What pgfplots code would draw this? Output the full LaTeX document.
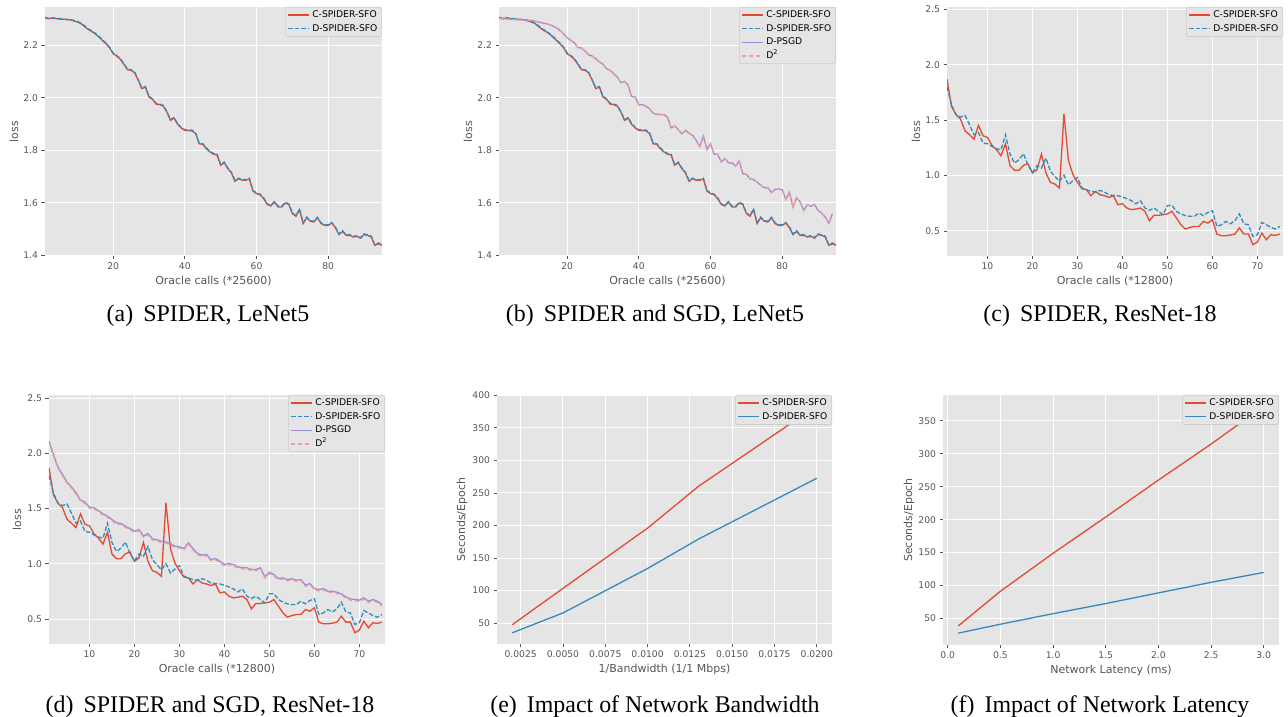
\documentclass[border=0pt]{standalone}
\usepackage{fontspec}
\setmainfont{DejaVu Sans}
\newfontfamily\capfont{Liberation Serif}
\usepackage{pgfplots}
\pgfplotsset{compat=1.18}
\usepackage{pgfplotstable}

\definecolor{bg}{HTML}{E5E5E5}
\definecolor{cred}{HTML}{E24A33}
\definecolor{cblue}{HTML}{348ABD}
\definecolor{cpurple}{HTML}{988ED5}
\definecolor{cpink}{HTML}{F39A9A}
\definecolor{tgray}{HTML}{555555}
\definecolor{legedge}{HTML}{CCCCCC}

% LeNet5: C-SPIDER-SFO (c), D-SPIDER-SFO (d)
\pgfplotstableread{
x c d
1 2.305 2.306
2 2.301 2.303
3 2.304 2.305
4 2.302 2.303
5 2.300 2.302
6 2.299 2.300
7 2.298 2.299
8 2.297 2.298
9 2.293 2.295
10 2.289 2.291
11 2.283 2.285
12 2.272 2.275
13 2.261 2.263
14 2.253 2.256
15 2.244 2.246
16 2.232 2.235
17 2.219 2.221
18 2.206 2.209
19 2.191 2.193
20 2.168 2.171
21 2.159 2.161
22 2.147 2.150
23 2.128 2.130
24 2.107 2.110
25 2.105 2.107
26 2.095 2.098
27 2.067 2.069
28 2.035 2.038
29 2.041 2.043
30 2.003 2.006
31 1.994 1.996
32 1.976 1.979
33 1.974 1.976
34 1.968 1.971
35 1.946 1.948
36 1.914 1.917
37 1.923 1.925
38 1.899 1.902
39 1.885 1.887
40 1.876 1.879
41 1.875 1.877
42 1.874 1.877
43 1.864 1.866
44 1.825 1.828
45 1.823 1.825
46 1.806 1.809
47 1.794 1.796
48 1.785 1.788
49 1.783 1.785
50 1.743 1.746
51 1.753 1.755
52 1.730 1.733
53 1.714 1.716
54 1.682 1.685
55 1.692 1.694
56 1.686 1.689
57 1.686 1.688
58 1.691 1.694
59 1.645 1.647
60 1.635 1.638
61 1.631 1.633
62 1.616 1.619
63 1.594 1.596
64 1.588 1.591
65 1.603 1.605
66 1.584 1.587
67 1.584 1.586
68 1.599 1.602
69 1.594 1.596
70 1.559 1.562
71 1.549 1.551
72 1.574 1.577
73 1.521 1.523
74 1.543 1.546
75 1.530 1.532
76 1.527 1.530
77 1.543 1.545
78 1.521 1.524
79 1.514 1.516
80 1.514 1.517
81 1.523 1.525
82 1.505 1.508
83 1.479 1.481
84 1.491 1.494
85 1.476 1.478
86 1.476 1.479
87 1.470 1.472
88 1.472 1.475
89 1.465 1.467
90 1.479 1.482
91 1.476 1.478
92 1.470 1.473
93 1.438 1.440
94 1.444 1.447
95 1.438 1.443
}\lenetspider

% LeNet5: D-PSGD (p), D^2 (q)
\pgfplotstableread{
x p q
1 2.302 2.301
2 2.302 2.301
3 2.301 2.300
4 2.300 2.299
5 2.299 2.298
6 2.298 2.297
7 2.297 2.296
8 2.296 2.295
9 2.296 2.295
10 2.295 2.294
11 2.292 2.291
12 2.289 2.288
13 2.286 2.285
14 2.283 2.282
15 2.279 2.278
16 2.274 2.273
17 2.267 2.266
18 2.257 2.256
19 2.244 2.243
20 2.229 2.228
21 2.219 2.218
22 2.210 2.209
23 2.191 2.190
24 2.190 2.189
25 2.178 2.177
26 2.164 2.163
27 2.159 2.158
28 2.149 2.148
29 2.137 2.136
30 2.128 2.127
31 2.111 2.110
32 2.105 2.104
33 2.092 2.091
34 2.079 2.078
35 2.058 2.057
36 2.063 2.062
37 2.048 2.047
38 2.005 2.004
39 2.003 2.002
40 1.974 1.973
41 1.974 1.973
42 1.968 1.967
43 1.959 1.958
44 1.942 1.941
45 1.937 1.936
46 1.937 1.936
47 1.936 1.935
48 1.927 1.926
49 1.886 1.885
50 1.893 1.892
51 1.879 1.878
52 1.863 1.862
53 1.876 1.875
54 1.866 1.865
55 1.857 1.856
56 1.838 1.837
57 1.815 1.814
58 1.854 1.853
59 1.803 1.802
60 1.825 1.824
61 1.785 1.784
62 1.785 1.784
63 1.756 1.755
64 1.769 1.768
65 1.753 1.752
66 1.752 1.751
67 1.740 1.739
68 1.759 1.758
69 1.711 1.710
70 1.709 1.708
71 1.692 1.691
72 1.688 1.687
73 1.679 1.678
74 1.667 1.666
75 1.658 1.657
76 1.658 1.657
77 1.639 1.638
78 1.651 1.650
79 1.653 1.652
80 1.650 1.649
81 1.613 1.612
82 1.641 1.640
83 1.584 1.583
84 1.620 1.619
85 1.603 1.602
86 1.571 1.570
87 1.593 1.592
88 1.587 1.586
89 1.594 1.593
90 1.571 1.570
91 1.561 1.560
92 1.546 1.545
93 1.523 1.522
94 1.559 1.558
}\lenetsgd

% ResNet-18: C-SPIDER-SFO (c), D-SPIDER-SFO (d), D-PSGD (p), D^2 (q)
\pgfplotstableread{
x c d p q
1 1.870 1.800 2.112 2.100
2 1.624 1.639 1.991 1.980
3 1.549 1.549 1.876 1.866
4 1.510 1.528 1.810 1.800
5 1.405 1.543 1.740 1.730
6 1.368 1.459 1.698 1.688
7 1.329 1.368 1.643 1.632
8 1.453 1.389 1.577 1.566
9 1.359 1.293 1.559 1.549
10 1.344 1.287 1.514 1.503
11 1.272 1.263 1.508 1.497
12 1.233 1.242 1.483 1.473
13 1.179 1.233 1.453 1.442
14 1.287 1.368 1.432 1.421
15 1.089 1.194 1.402 1.392
16 1.047 1.113 1.372 1.361
17 1.047 1.143 1.366 1.356
18 1.092 1.197 1.341 1.330
19 1.107 1.092 1.320 1.310
20 1.023 1.029 1.296 1.285
21 1.053 1.089 1.311 1.300
22 1.194 1.068 1.251 1.241
23 1.023 1.158 1.275 1.264
24 0.938 1.038 1.227 1.216
25 0.923 0.992 1.218 1.208
26 0.887 0.947 1.205 1.194
27 1.555 1.002 1.199 1.188
28 1.137 0.917 1.184 1.174
29 1.008 0.953 1.160 1.149
30 0.938 0.983 1.154 1.143
31 0.881 0.887 1.139 1.129
32 0.872 0.872 1.190 1.180
33 0.818 0.857 1.139 1.128
34 0.857 0.851 1.094 1.083
35 0.827 0.866 1.079 1.068
36 0.818 0.851 1.085 1.074
37 0.803 0.827 1.039 1.028
38 0.818 0.821 1.048 1.037
39 0.737 0.818 1.024 1.013
40 0.746 0.806 0.994 0.983
41 0.707 0.791 1.003 0.992
42 0.692 0.773 0.994 0.983
43 0.698 0.746 0.973 0.962
44 0.707 0.773 0.964 0.953
45 0.677 0.707 0.964 0.953
46 0.592 0.686 0.949 0.938
47 0.641 0.707 0.949 0.938
48 0.641 0.677 0.964 0.953
49 0.647 0.647 0.882 0.871
50 0.653 0.728 0.924 0.913
51 0.677 0.731 0.903 0.892
52 0.617 0.677 0.867 0.856
53 0.556 0.653 0.873 0.862
54 0.517 0.638 0.858 0.847
55 0.532 0.632 0.864 0.853
56 0.541 0.632 0.852 0.841
57 0.541 0.662 0.858 0.847
58 0.586 0.638 0.807 0.796
59 0.571 0.668 0.822 0.811
60 0.601 0.683 0.776 0.765
61 0.472 0.541 0.767 0.756
62 0.457 0.556 0.776 0.765
63 0.457 0.586 0.752 0.741
64 0.463 0.565 0.752 0.741
65 0.472 0.592 0.743 0.732
66 0.526 0.653 0.728 0.717
67 0.472 0.565 0.701 0.690
68 0.472 0.556 0.683 0.672
69 0.376 0.451 0.677 0.666
70 0.400 0.466 0.671 0.660
71 0.481 0.577 0.692 0.681
72 0.421 0.556 0.662 0.651
73 0.466 0.532 0.677 0.666
74 0.460 0.517 0.662 0.651
75 0.472 0.541 0.632 0.621
}\resnet

\pgfplotstableread{
x c d
0.002 47.5 35.2
0.005 103.5 65.7
0.010 196.0 134.0
0.013 260.0 179.0
0.020 384.0 272.6
}\bandwidth

\pgfplotstableread{
x c d
0.1 38.9 28.0
0.5 91.5 41.5
1.0 149.0 57.5
1.5 204.0 72.8
2.0 260.0 89.0
2.5 314.6 105.0
3.0 372.0 120.0
}\latency

\pgfplotsset{
  legend image code/.code={\draw[#1] (0pt,0pt) -- (21pt,0pt);},
  gg/.style={
    scale only axis,
    anchor=south west,
    height=249pt,
    axis background/.style={fill=bg},
    grid=major,
    major grid style={white, line width=1pt},
    axis line style={draw=none},
    tick align=outside,
    xtick pos=bottom, ytick pos=left,
    major tick length=3.5pt,
    tick style={tgray, line width=0.8pt},
    tick label style={font=\fontsize{9.2}{11}\selectfont, text=tgray},
    label style={font=\fontsize{11}{13}\selectfont, text=tgray},
    /pgf/number format/assume math mode=true,
    scaled ticks=false,
    no markers,
    xlabel style={at={([yshift=-25pt]axis description cs:0.5,0)}, anchor=center},
    legend cell align=left,
    legend style={at={(1,1)}, anchor=north east, draw=legedge, fill=bg,
      rounded corners=2pt, line width=0.6pt,
      font=\fontsize{9.2}{11}\selectfont, text=black,
      inner xsep=2pt, inner ysep=1pt, row sep=0pt,
      nodes={inner sep=2.3pt, text height=7pt, text depth=2pt}},
  },
  lossy/.style={yticklabel style={/pgf/number format/.cd, fixed, fixed zerofill, precision=1}},
}

\begin{document}
\begin{tikzpicture}
\useasboundingbox (0,0) rectangle (1288pt,717pt);

% (a)
\begin{axis}[gg, lossy, at={(45pt,461pt)}, width=337pt,
  xmin=1, xmax=95, ymin=1.3975, ymax=2.346,
  xtick={20,40,60,80}, ytick={1.4,1.6,1.8,2.0,2.2},
  xlabel={Oracle calls (*25600)}, ylabel={loss},
  ylabel style={at={([xshift=-31pt]axis description cs:0,0.5)}, anchor=center}]
\addplot[cred, line width=1.3pt] table[x=x, y=c] {\lenetspider};
\addlegendentry{C-SPIDER-SFO}
\addplot[cblue, line width=1.3pt, dash pattern=on 4.5pt off 2pt] table[x=x, y=d] {\lenetspider};
\addlegendentry{D-SPIDER-SFO}
\end{axis}

% (b)
\begin{axis}[gg, lossy, at={(499pt,461pt)}, width=337pt,
  xmin=1, xmax=95, ymin=1.3975, ymax=2.346,
  xtick={20,40,60,80}, ytick={1.4,1.6,1.8,2.0,2.2},
  xlabel={Oracle calls (*25600)}, ylabel={loss},
  ylabel style={at={([xshift=-31pt]axis description cs:0,0.5)}, anchor=center}]
\addplot[cred, line width=1.3pt] table[x=x, y=c] {\lenetspider};
\addlegendentry{C-SPIDER-SFO}
\addplot[cblue, line width=1.3pt, dash pattern=on 4.5pt off 2pt] table[x=x, y=d] {\lenetspider};
\addlegendentry{D-SPIDER-SFO}
\addplot[cpurple, line width=1.3pt] table[x=x, y=p] {\lenetsgd};
\addlegendentry{D-PSGD}
\addplot[cpink, line width=1.3pt, dash pattern=on 4pt off 3pt] table[x=x, y=q] {\lenetsgd};
\addlegendentry{D\textsuperscript{2}}
\end{axis}

% (c)
\begin{axis}[gg, lossy, at={(947pt,461pt)}, width=336pt,
  xmin=1, xmax=75.7, ymin=0.274, ymax=2.521,
  xtick={10,20,30,40,50,60,70}, ytick={0.5,1.0,1.5,2.0,2.5},
  xlabel={Oracle calls (*12800)}, ylabel={loss},
  ylabel style={at={([xshift=-31pt]axis description cs:0,0.5)}, anchor=center}]
\addplot[cred, line width=1.3pt] table[x=x, y=c] {\resnet};
\addlegendentry{C-SPIDER-SFO}
\addplot[cblue, line width=1.3pt, dash pattern=on 4.5pt off 2pt] table[x=x, y=d] {\resnet};
\addlegendentry{D-SPIDER-SFO}
\end{axis}

% (d)
\begin{axis}[gg, lossy, at={(49pt,73pt)}, width=336pt,
  xmin=1, xmax=75.7, ymin=0.274, ymax=2.53,
  xtick={10,20,30,40,50,60,70}, ytick={0.5,1.0,1.5,2.0,2.5},
  xlabel={Oracle calls (*12800)}, ylabel={loss},
  ylabel style={at={([xshift=-32pt]axis description cs:0,0.5)}, anchor=center}]
\addplot[cred, line width=1.3pt] table[x=x, y=c] {\resnet};
\addlegendentry{C-SPIDER-SFO}
\addplot[cblue, line width=1.3pt, dash pattern=on 4.5pt off 2pt] table[x=x, y=d] {\resnet};
\addlegendentry{D-SPIDER-SFO}
\addplot[cpurple, line width=1.3pt] table[x=x, y=p] {\resnet};
\addlegendentry{D-PSGD}
\addplot[cpink, line width=1.3pt, dash pattern=on 4pt off 3pt] table[x=x, y=q] {\resnet};
\addlegendentry{D\textsuperscript{2}}
\end{axis}

% (e)
\begin{axis}[gg, at={(497pt,73pt)}, width=335pt,
  xmin=0.0011, xmax=0.0209, ymin=18, ymax=400.5,
  xtick={0.0025,0.005,0.0075,0.01,0.0125,0.015,0.0175,0.02},
  ytick={50,100,150,200,250,300,350,400},
  xticklabel style={/pgf/number format/.cd, fixed, fixed zerofill, precision=4},
  xlabel={1/Bandwidth (1/1 Mbps)}, ylabel={Seconds/Epoch},
  ylabel style={at={([xshift=-35pt]axis description cs:0,0.5)}, anchor=center}]
\addplot[cred, line width=1.3pt] table[x=x, y=c] {\bandwidth};
\addlegendentry{C-SPIDER-SFO}
\addplot[cblue, line width=1.3pt] table[x=x, y=d] {\bandwidth};
\addlegendentry{D-SPIDER-SFO}
\end{axis}

% (f)
\begin{axis}[gg, at={(943pt,72pt)}, width=336pt, height=250pt,
  xmin=-0.045, xmax=3.145, ymin=10, ymax=389,
  xtick={0,0.5,1.0,1.5,2.0,2.5,3.0},
  ytick={50,100,150,200,250,300,350},
  xticklabel style={/pgf/number format/.cd, fixed, fixed zerofill, precision=1},
  xlabel={Network Latency (ms)}, ylabel={Seconds/Epoch},
  ylabel style={at={([xshift=-34pt]axis description cs:0,0.5)}, anchor=center}]
\addplot[cred, line width=1.3pt] table[x=x, y=c] {\latency};
\addlegendentry{C-SPIDER-SFO}
\addplot[cblue, line width=1.3pt] table[x=x, y=d] {\latency};
\addlegendentry{D-SPIDER-SFO}
\end{axis}

% captions
\begin{scope}[every node/.style={anchor=base, inner sep=0pt,
    font=\capfont\fontsize{23.9}{28}\selectfont}]
\node at (208pt,395pt) {(a)\hspace{0.42em}SPIDER, LeNet5};
\node at (655pt,395pt) {(b)\hspace{0.42em}SPIDER and SGD, LeNet5};
\node at (1100pt,395pt) {(c)\hspace{0.42em}SPIDER, ResNet-18};
\node at (210pt,4pt) {(d)\hspace{0.42em}SPIDER and SGD, ResNet-18};
\node at (655pt,4pt) {(e)\hspace{0.42em}Impact of Network Bandwidth};
\node at (1100pt,4pt) {(f)\hspace{0.42em}Impact of Network Latency};
\end{scope}
\end{tikzpicture}
\end{document}
